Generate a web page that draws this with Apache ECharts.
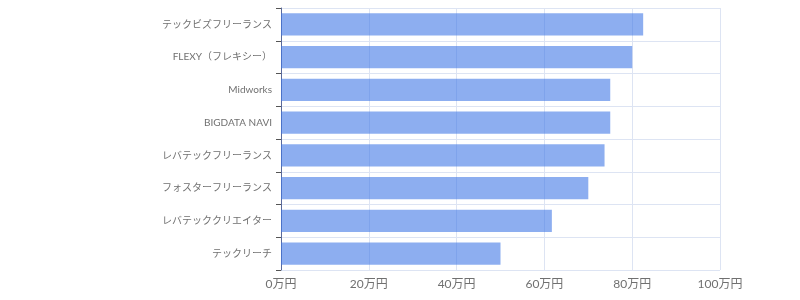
<!DOCTYPE html>
<html><head><meta charset="utf-8">
<script src="https://cdn.jsdelivr.net/npm/echarts@6/dist/echarts.min.js"></script>
<style>html,body{margin:0;padding:0;background:#fff}#c{width:800px;height:300px}</style>
</head><body><div id="c"></div>
<script>
const categories = ['テックビズフリーランス','FLEXY（フレキシー）','Midworks','BIGDATA NAVI','レバテックフリーランス','フォスターフリーランス','レバテッククリエイター','テックリーチ'];
const values = [82.5, 80, 75, 75, 73.7, 70, 61.7, 50];
const xTicks = [0, 20, 40, 60, 80, 100];
const font = 'Lato, "Noto Sans CJK JP", sans-serif';
const chart = echarts.init(document.getElementById('c'));
chart.setOption({
  animation: false,
  grid: {left: 281, right: 80, top: 8, bottom: 30, containLabel: false},
  xAxis: {
    type: 'value', min: xTicks[0], max: xTicks[xTicks.length-1], interval: 20,
    axisLabel: {formatter: v => v + '万円', color: '#707070', fontSize: 12, fontFamily: font, margin: 8},
    axisLine: {show: false}, axisTick: {show: false},
    splitLine: {show: true, lineStyle: {color: '#dde4f3', width: 1}}
  },
  yAxis: {
    type: 'category', data: categories, inverse: true,
    axisLabel: {color: '#707070', fontSize: 10, fontFamily: font, margin: 9},
    axisLine: {show: true, lineStyle: {color: '#5a6a9c', width: 1}},
    axisTick: {show: true, length: 5, lineStyle: {color: '#555'}},
    splitLine: {show: true, lineStyle: {color: '#dde4f3', width: 1}}
  },
  series: [{
    type: 'bar', data: values, barWidth: '68%',
    itemStyle: {color: 'rgba(65,120,230,0.6)'}
  }]
});
</script></body></html>
